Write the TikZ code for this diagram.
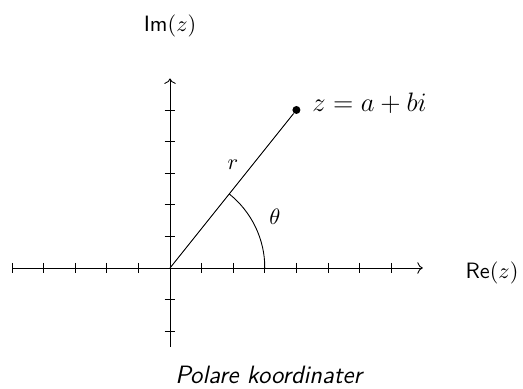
\documentclass[tikz,border=0pt]{standalone}
\usetikzlibrary{arrows.meta}
\tikzset{
  axis/.style={->,line width=0.4pt},
  axtick/.style={line width=0.4pt},
  radius line/.style={line width=0.4pt},
  dot/.style={circle,fill=black,inner sep=0pt,minimum size=3.6pt},
  lbl/.style={inner sep=2pt},
  caption/.style={font=\sffamily\itshape\fontsize{11.3}{13}\selectfont},
}

\begin{document}
\begin{tikzpicture}[x=5mm,y=5mm]
  \useasboundingbox (-5.38,-3.80) rectangle (11.17,8.48);

  \coordinate (O) at (0,0);
  \coordinate (xmin) at (-5,0);
  \coordinate (xmax) at (8,0);
  \coordinate (ymin) at (0,-2.5);
  \coordinate (ymax) at (0,6);

  % axes with ticks
  \draw[axis] (xmin) -- (xmax);
  \draw[axis] (ymin) -- (ymax);
  \foreach \x in {-5,-4,-3,-2,-1,1,2,3,4,5,6,7}
    \draw[axtick] (\x,0.16) -- (\x,-0.16);
  \foreach \y in {-2,-1,1,2,3,4,5}
    \draw[axtick] (-0.17,\y) -- (0.17,\y);

  % the point and its modulus / argument
  \node[dot] (z) at (4,5) {};
  \draw[radius line] (O) -- (z);
  \coordinate (a0) at (3,0);
  \draw (a0) arc[start angle=0,end angle=51.34,radius=3];

  \node[lbl,font=\large,anchor=west] (zlbl) at (4.35,5.2) {$z=a+bi$};
  \node[lbl] (rlbl) at (1.99,3.26) {$r$};
  \node[lbl] (thlbl) at (3.32,1.61) {$\theta$};
  \node[lbl] (relbl) at (10.19,-0.17) {$\mathsf{Re}(z)$};
  \node[lbl] (imlbl) at (0,7.67) {$\mathsf{Im}(z)$};

  \node[caption] (cap) at (3.12,-3.39) {Polare koordinater};
\end{tikzpicture}
\end{document}
